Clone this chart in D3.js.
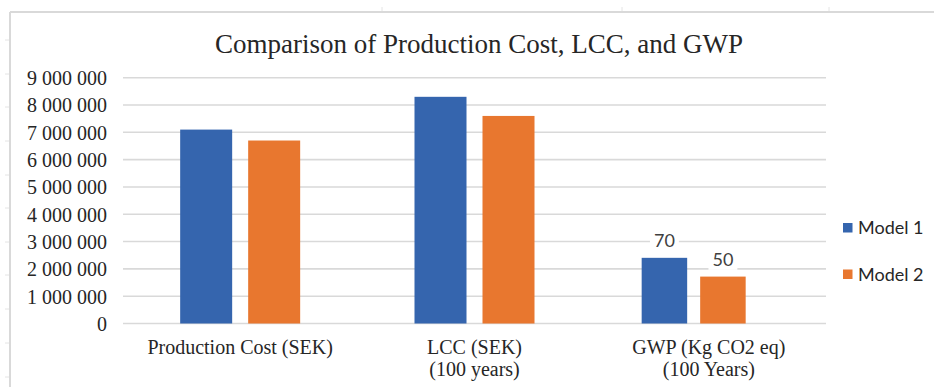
<!DOCTYPE html>
<html>
<head>
<meta charset="utf-8">
<script src="https://cdn.jsdelivr.net/npm/d3@7"></script>
<style>
  html, body { margin: 0; padding: 0; background: #fff; }
  svg { display: block; }
</style>
</head>
<body>
<svg id="chart" width="934" height="387"></svg>
<script>
// Categories (multi-line labels split on "\n")
const categories = [
  "Production Cost (SEK)",
  "LCC (SEK)\n(100 years)",
  "GWP (Kg CO2 eq)\n(100 Years)"
];
const seriesNames = ["Model 1", "Model 2"];
// Cost values in SEK; GWP in kg CO2 eq (plotted against a secondary, hidden axis)
const model1 = [7100000, 8300000, 70];
const model2 = [6700000, 7600000, 50];
const yTicks = [0, 1000000, 2000000, 3000000, 4000000, 5000000, 6000000, 7000000, 8000000, 9000000];
const gwpAxisMax = 262;

const colors = ["#3565ae", "#e8772f"];
const gridColor = "#d9d9d9";

const svg = d3.select("#chart");
const W = 934, H = 387;

// Frame of the sheet area
svg.append("line").attr("x1", 10).attr("x2", W).attr("y1", 12).attr("y2", 12)
  .attr("stroke", gridColor).attr("stroke-width", 2);
svg.append("line").attr("x1", 10).attr("x2", 10).attr("y1", 12).attr("y2", H)
  .attr("stroke", gridColor).attr("stroke-width", 2);
// small row/column marks outside the frame
[40, 74, 107, 141, 175, 208, 242, 275, 309, 343, 377].forEach(y => {
  svg.append("line").attr("x1", 5).attr("x2", 9).attr("y1", y).attr("y2", y)
    .attr("stroke", "#e4e4e4").attr("stroke-width", 1);
});
[382, 622, 829].forEach(x => {
  svg.append("line").attr("x1", x).attr("x2", x).attr("y1", 7).attr("y2", 11)
    .attr("stroke", "#e4e4e4").attr("stroke-width", 1);
});

const plot = { left: 123, right: 826, top: 77.7, bottom: 323.5 };

const x0 = d3.scaleBand().domain(categories).range([plot.left, plot.right]).padding(0);
const y = d3.scaleLinear().domain([0, 9000000]).range([plot.bottom, plot.top]);
const yGwp = d3.scaleLinear().domain([0, gwpAxisMax]).range([plot.bottom, plot.top]);

// sub-bands for the two models: cost groups and the GWP group
const groupW = 120;
const x1 = d3.scaleBand().domain(seriesNames).range([0, groupW]).paddingInner(2 - groupW / 68).paddingOuter(0);
const gwpW = 104;
const x1g = d3.scaleBand().domain(seriesNames).range([0, gwpW]).paddingInner(2 - gwpW / 58.5).paddingOuter(0);

// Gridlines
svg.append("g").selectAll("line").data(yTicks).join("line")
  .attr("x1", plot.left).attr("x2", plot.right)
  .attr("y1", d => y(d)).attr("y2", d => y(d))
  .attr("stroke", gridColor).attr("stroke-width", 1.6);

// Y axis labels
const fmt = v => d3.format(",")(v).replace(/,/g, " ");
const yAxis = d3.axisLeft(y).tickValues(yTicks).tickFormat(fmt).tickSize(0).tickPadding(0);
const yg = svg.append("g").attr("transform", `translate(107,0)`).call(yAxis);
yg.select(".domain").remove();
yg.selectAll("text")
  .attr("font-family", "'Liberation Serif', 'Times New Roman', serif")
  .attr("font-size", 20).attr("fill", "#262626").attr("dy", "0.34em");

// Bars
const rows = categories.map((c, i) => ({ cat: c, values: [model1[i], model2[i]], gwp: i === 2 }));
const groups = svg.append("g").selectAll("g").data(rows).join("g");
groups.selectAll("rect")
  .data(d => d.values.map((v, j) => ({ v, j, gwp: d.gwp, cat: d.cat })))
  .join("rect")
  .attr("x", d => d.gwp
    ? x0(d.cat) + 50 + x1g(seriesNames[d.j])
    : x0(d.cat) + (x0.bandwidth() - groupW) / 2 + x1(seriesNames[d.j]))
  .attr("width", d => d.gwp ? x1g.bandwidth() : x1.bandwidth())
  .attr("y", d => (d.gwp ? yGwp : y)(d.v))
  .attr("height", d => plot.bottom - (d.gwp ? yGwp : y)(d.v))
  .attr("fill", d => colors[d.j]);

// Value labels on the GWP bars (white box behind text)
const gwpRow = rows[2];
gwpRow.values.forEach((v, j) => {
  const cx = x0(gwpRow.cat) + 50 + x1g(seriesNames[j]) + x1g.bandwidth() / 2;
  const cy = yGwp(v) - 17;
  const g = svg.append("g");
  const t = g.append("text").attr("x", cx).attr("y", cy)
    .attr("text-anchor", "middle").attr("dy", "0.35em")
    .attr("font-family", "Lato, 'Open Sans', sans-serif").attr("font-size", 18)
    .attr("fill", "#404040").text(v);
  const bb = t.node().getBBox();
  g.insert("rect", "text").attr("x", bb.x - 4).attr("y", bb.y).attr("width", bb.width + 8)
    .attr("height", bb.height).attr("fill", "#fff");
});

// Category labels
const catFont = "'Liberation Serif', 'Times New Roman', serif";
categories.forEach(c => {
  const lines = c.split("\n");
  const t = svg.append("text")
    .attr("x", x0(c) + x0.bandwidth() / 2).attr("y", 354)
    .attr("text-anchor", "middle")
    .attr("font-family", catFont).attr("font-size", 20).attr("fill", "#262626");
  lines.forEach((ln, k) => {
    t.append("tspan").attr("x", x0(c) + x0.bandwidth() / 2).attr("dy", k === 0 ? 0 : 22).text(ln);
  });
});

// Title
svg.append("text").attr("x", 479).attr("y", 53)
  .attr("text-anchor", "middle")
  .attr("font-family", "'Liberation Serif', 'Times New Roman', serif")
  .attr("font-size", 27).attr("fill", "#262626")
  .text("Comparison of Production Cost, LCC, and GWP");

// Legend
const legend = svg.append("g").selectAll("g").data(seriesNames).join("g")
  .attr("transform", (d, i) => `translate(843, ${228 + i * 46.5})`);
legend.append("rect").attr("x", 0).attr("y", -5).attr("width", 9.5).attr("height", 9.5)
  .attr("fill", (d, i) => colors[i]);
legend.append("text").attr("x", 15).attr("y", 0).attr("dy", "0.36em")
  .attr("font-family", "Lato, 'Open Sans', sans-serif").attr("font-size", 18)
  .attr("fill", "#262626").text(d => d);
</script>
</body>
</html>
